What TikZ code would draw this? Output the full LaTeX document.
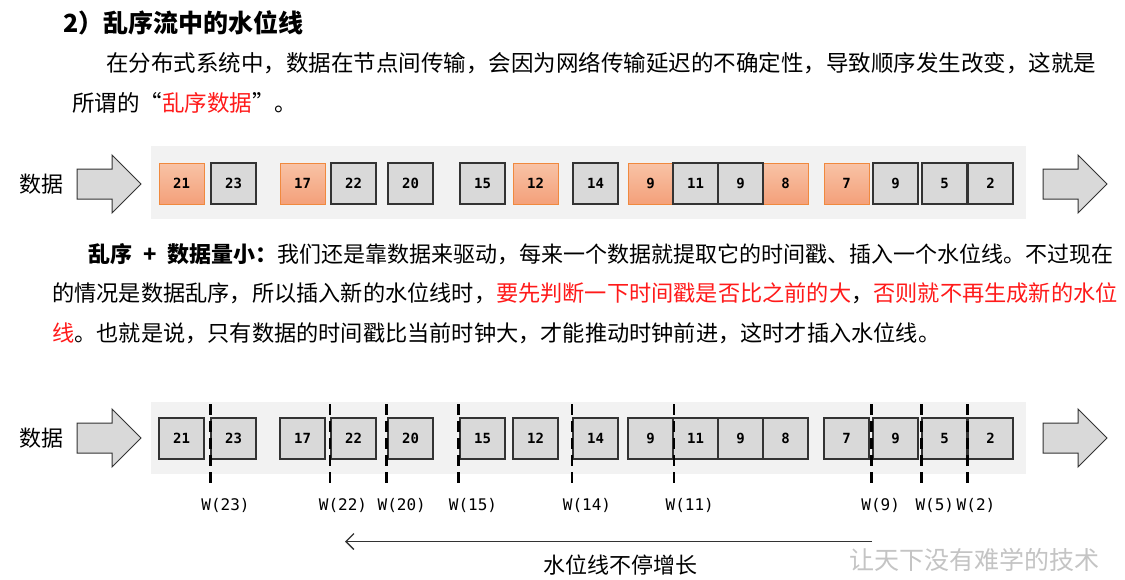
\documentclass[tikz,border=0pt]{standalone}
\usepackage{fontspec}
\setmainfont{Noto Sans CJK SC}
\newfontfamily\mono{DejaVu Sans Mono}
\usetikzlibrary{arrows.meta}
\definecolor{bgray}{HTML}{F2F2F2}
\definecolor{boxgray}{HTML}{D9D9D9}
\definecolor{oTop}{HTML}{F8C3A6}
\definecolor{oBot}{HTML}{F4A07A}
\definecolor{oLine}{HTML}{F0893E}
\definecolor{txtred}{HTML}{FF1A1A}
\definecolor{wmgray}{HTML}{C4C4C4}
\definecolor{bdark}{HTML}{333333}
\begin{document}
\begin{tikzpicture}[x=1pt,y=-1pt,
  gbox/.style={draw=bdark, line width=1.7pt, fill=boxgray, minimum width=45pt, minimum height=41pt, inner sep=0pt, font=\mono\bfseries\fontsize{14pt}{15pt}\selectfont},
  obox/.style={gbox, draw=oLine, line width=1pt, top color=oTop, bottom color=oBot},
  txt/.style={anchor=west, inner sep=0pt},
  blockarrow/.style={fill=boxgray, draw=bdark, line width=1pt, line join=miter},
  wline/.style={line width=2.8pt, dash pattern=on 10.5pt off 6.5pt, black},
  wlabel/.style={inner sep=0pt, font=\mono\fontsize{16pt}{18pt}\selectfont},
  bglane/.style={fill=bgray, draw=none}
]
\useasboundingbox (0,0) rectangle (1125,579);
\fill[white] (0,0) rectangle (1125,579);

% title and paragraphs
\node[txt, font=\bfseries\fontsize{25pt}{28pt}\selectfont] (title) at (63,23) {2）乱序流中的水位线};
\node[txt, font=\fontsize{22.5pt}{28pt}\selectfont] (p1a) at (106,63) {在分布式系统中，数据在节点间传输，会因为网络传输延迟的不确定性，导致顺序发生改变，这就是};
\node[txt, font=\fontsize{22.5pt}{28pt}\selectfont] (p1b) at (72,103) {所谓的“\textcolor{txtred}{乱序数据}”。};

\node[txt, font=\fontsize{22pt}{26pt}\selectfont] (p2a) at (88,254) {\textbf{乱序\hspace{11pt}+\hspace{11pt}数据量小：}我们还是靠数据来驱动，每来一个数据就提取它的时间戳、插入一个水位线。不过现在};
\node[txt, font=\fontsize{22.2pt}{26pt}\selectfont] (p2b) at (52,293) {的情况是数据乱序，所以插入新的水位线时，\textcolor{txtred}{要先判断一下时间戳是否比之前的大}，\textcolor{txtred}{否则就不再生成新的水位}};
\node[txt, font=\fontsize{22.2pt}{26pt}\selectfont] (p2c) at (52,333) {\textcolor{txtred}{线}。也就是说，只有数据的时间戳比当前时钟大，才能推动时钟前进，这时才插入水位线。};

% lanes
\fill[bglane] (151,146) rectangle (1026,219);
\fill[bglane] (151,402) rectangle (1026,474);

% labels
\node[font=\fontsize{22pt}{26pt}\selectfont, inner sep=0pt] (d1) at (41.5,184) {数据};
\node[font=\fontsize{22pt}{26pt}\selectfont, inner sep=0pt] (d2) at (41.5,438) {数据};

% block arrows
\foreach \yc in {184,438} {
  \draw[blockarrow] (77,\yc-15) -- (112,\yc-15) -- (112,\yc-29) -- (141,\yc) -- (112,\yc+29) -- (112,\yc+15) -- (77,\yc+15) -- cycle;
  \draw[blockarrow] (1043,\yc-15) -- (1078,\yc-15) -- (1078,\yc-29) -- (1107,\yc) -- (1078,\yc+29) -- (1078,\yc+15) -- (1043,\yc+15) -- cycle;
}

% row 1: orange first, then gray
\foreach \x/\t/\n in {159/21/a1,280/17/a3,513/12/a7,628/9/a9,763/8/a12,824/7/a13}
  \node[obox] (\n) at (\x+22.5,183.5) {\t};
\foreach \x/\t/\n in {211/23/a2,331/22/a4,388/20/a5,460/15/a6,573/14/a8,673/11/a10,718/9/a11,873/9/a14,922/5/a15,968/2/a16}
  \node[gbox] (\n) at (\x+22.5,183.5) {\t};

% row 2: all gray
\foreach \x/\t [count=\i] in {159/21,211/23,280/17,331/22,388/20,460/15,513/12,573/14,628/9,673/11,718/9,763/8,824/7,873/9,922/5,968/2}
  \node[gbox, line width=1.5pt] (b\i) at (\x+22.5,438.5) {\t};

% watermark lines
\foreach \x [count=\i] in {210.5,330,386.5,458.5,572,674,871.5,921.5,967.5} {
  \coordinate (wt\i) at (\x,404);
  \coordinate (wb\i) at (\x,482.5);
  \draw[wline] (wt\i) -- (wb\i);
}

% W labels
\foreach \x/\t [count=\i] in {225.5/23,343/22,401.7/20,473/15,587/14,689.7/11,880.7/9,934.8/5,976/2}
  \node[wlabel] (wl\i) at (\x,505) {W(\t)};

% growth arrow
\coordinate (gs) at (872,541.5);
\coordinate (ge) at (345,541.5);
\draw[-{Straight Barb[length=8pt,width=16pt]}, line width=1.3pt, bdark] (gs) -- (ge);
\node[font=\fontsize{22pt}{26pt}\selectfont, inner sep=0pt] (gt) at (620,565) {水位线不停增长};

% watermark
\node[font=\fontsize{25pt}{28pt}\selectfont, text=wmgray, inner sep=0pt] (wm) at (974,560) {让天下没有难学的技术};
\end{tikzpicture}
\end{document}
